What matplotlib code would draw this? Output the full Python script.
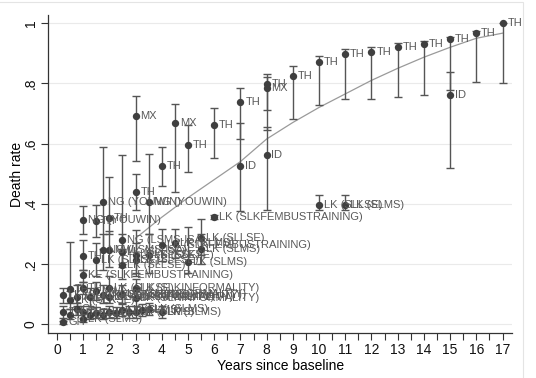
import matplotlib
matplotlib.use("Agg")
import matplotlib.pyplot as plt
import numpy as np
from matplotlib.patches import Rectangle

plt.rcParams['font.family'] = ['Liberation Sans', 'DejaVu Sans']

# point estimates with confidence intervals
years = [17, 16, 15, 15, 14, 13, 12, 11, 10, 9,
         8, 8, 8, 7, 7, 6, 5, 4.5, 4, 3, 3,
         11, 10, 6,
         1.75, 3.5, 1, 1.5, 2,
         2.5, 1.75, 2, 1, 1.5, 2.5, 2.5, 3, 3, 3.5, 4, 4.5, 5, 5.5, 5.5,
         1, 1, 1.5, 2, 3, 0.5, 0.25, 0.5, 0.75, 1.25, 1.75, 2, 2.5, 3,
         0.25, 0.25, 0.5, 0.75, 1, 1, 1.25, 1.5, 1.75, 2, 2.25, 2.5, 2.75, 3, 3.25, 3.5, 4]
rates = [1.000, 0.967, 0.947, 0.761, 0.932, 0.920, 0.905, 0.899, 0.870, 0.826,
         0.797, 0.784, 0.561, 0.738, 0.525, 0.661, 0.595, 0.669, 0.526, 0.693, 0.440,
         0.395, 0.395, 0.355,
         0.405, 0.405, 0.345, 0.342, 0.352,
         0.279, 0.246, 0.246, 0.226, 0.213, 0.240, 0.196, 0.230, 0.213, 0.229, 0.262, 0.270, 0.206, 0.286, 0.250,
         0.163, 0.120, 0.110, 0.120, 0.120, 0.116, 0.096, 0.080, 0.090, 0.090, 0.095, 0.090, 0.100, 0.085,
         0.040, 0.005, 0.030, 0.050, 0.015, 0.040, 0.030, 0.035, 0.030, 0.040, 0.035, 0.045, 0.040, 0.040, 0.045, 0.050, 0.040]
ci_low = [0.800, 0.804, 0.777, 0.520, 0.763, 0.755, 0.749, 0.747, 0.727, 0.681,
          0.645, 0.711, 0.379, 0.614, 0.377, 0.551, 0.505, 0.440, 0.460, 0.541, 0.380,
          0.380, 0.380, 0.348,
          0.250, 0.300, 0.300, 0.290, 0.300,
          0.200, 0.180, 0.190, 0.180, 0.160, 0.190, 0.150, 0.170, 0.160, 0.170, 0.210, 0.220, 0.170, 0.230, 0.200,
          0.140, 0.100, 0.080, 0.090, 0.090, 0.070, 0.070, 0.050, 0.060, 0.060, 0.070, 0.070, 0.070, 0.060,
          0.020, 0.000, 0.015, 0.030, 0.005, 0.020, 0.015, 0.020, 0.015, 0.020, 0.020, 0.025, 0.020, 0.020, 0.025, 0.030, 0.020]
ci_high = [1.000, 0.975, 0.955, 0.837, 0.942, 0.933, 0.921, 0.915, 0.890, 0.858,
           0.830, 0.820, 0.656, 0.784, 0.667, 0.717, 0.660, 0.733, 0.588, 0.758, 0.500,
           0.430, 0.430, 0.362,
           0.590, 0.565, 0.392, 0.395, 0.488,
           0.561, 0.300, 0.310, 0.278, 0.270, 0.300, 0.250, 0.312, 0.270, 0.300, 0.315, 0.316, 0.323, 0.348, 0.300,
           0.180, 0.140, 0.140, 0.160, 0.150, 0.273, 0.120, 0.110, 0.130, 0.120, 0.130, 0.120, 0.130, 0.110,
           0.060, 0.010, 0.050, 0.070, 0.040, 0.060, 0.050, 0.055, 0.050, 0.060, 0.055, 0.065, 0.060, 0.060, 0.065, 0.070, 0.060]
labels = ['TH', 'TH', 'TH', 'ID', 'TH', 'TH', 'TH', 'TH', 'TH', 'TH',
          'TH', 'MX', 'ID', 'TH', 'ID', 'TH', 'TH', 'MX', 'TH', 'MX', 'TH',
          'LK (SLMS)', 'LK (SLLSE)', 'LK (SLKFEMBUSTRAINING)',
          'NG (YOUWIN)', 'NG (YOUWIN)', 'NG (YOUWIN)', 'TH', 'TH',
          'NG (LSMS-ISA)', 'NG (LSMS-ISA)', 'MW', 'TH', 'LK (SLLSE)', 'LK (SLLSE)', 'LK (SLLSE)',
          'LK (SLKSE)', 'LK (SLLSE)', 'LK (SLKSE)', 'LK (SLKFEMBUSTRAINING)', 'LK (SLMS)', 'LK (SLMS)',
          'LK (SLLSE)', 'LK (SLMS)',
          'KE (SLKFEMBUSTRAINING)', 'TH', 'MW', 'LK (SLKSE)', 'LK (SLKINFORMALITY)', 'TH',
          'LK (SLKINFORMALITY)', 'LK (SLKSE)', 'TH', 'LK (SLKINFORMALITY)', 'LK (SLKSEINFORMALITY)',
          'LK (SLKINFORMALITY)', 'LK (SLKINFORMALITY)', 'LK (SLKINFORMALITY)',
          'TH', 'GH', 'TH', 'GH', 'LK (SLMS)', 'TH', 'GH', 'TH', 'GH', 'TH', 'GH',
          'LK (SLMS)', 'TH', 'LK (SLMS)', 'GH', 'LK (SLMS)', 'LK (SLMS)']

# fitted curve
fit_years = [3, 4, 5, 6, 7, 8, 9, 10, 11, 12, 13, 14, 15, 16, 17]
fit_rates = [0.285, 0.355, 0.42, 0.48, 0.54, 0.615, 0.67, 0.72, 0.765, 0.81,
             0.85, 0.887, 0.92, 0.95, 0.967]

x = np.array(years)
y = np.array(rates)
lo = np.array(ci_low)
hi = np.array(ci_high)

fig = plt.figure(figsize=(5.36, 3.78), dpi=100)
ax = fig.add_axes([0.0896, 0.119, 0.866, 0.841])

for v in [0, 0.2, 0.4, 0.6, 0.8, 1.0]:
    ax.axhline(v, color='#eaeaea', lw=0.8, zorder=0)

ax.errorbar(x, y, yerr=[y - lo, hi - y], fmt='none', ecolor='#555555',
            elinewidth=1.0, capsize=3, capthick=1.0, zorder=2)
ax.scatter(x, y, s=28, color='#3f3f3f', zorder=3, linewidths=0)
ax.plot(fit_years, fit_rates, color='#9a9a9a', lw=0.9, zorder=1)

for xi, yi, lab in zip(x, y, labels):
    ax.annotate(lab, (xi, yi), xytext=(3.5, 0), textcoords='offset points',
                va='center', ha='left', fontsize=8, color='#595959', zorder=4)

ax.set_xlim(-0.34, 17.37)
ax.set_ylim(-0.03, 1.027)
ax.set_xticks(np.arange(0, 17.5, 0.5))
ax.set_xticklabels([str(int(t)) if t == int(t) else '' for t in np.arange(0, 17.5, 0.5)])
ax.set_yticks([0, 0.2, 0.4, 0.6, 0.8, 1.0])
ax.set_yticklabels(['0', '.2', '.4', '.6', '.8', '1'], rotation=90, va='center')
ax.tick_params(axis='both', labelsize=10, length=5, width=0.8, color='#333333',
               labelcolor='#111111', pad=2.5)
for s in ['top', 'right']:
    ax.spines[s].set_visible(False)
for s in ['left', 'bottom']:
    ax.spines[s].set_color('#333333')
    ax.spines[s].set_linewidth(0.9)

ax.set_xlabel('Years since baseline', fontsize=10, labelpad=1)
ax.set_ylabel('Death rate', fontsize=10)
ax.yaxis.set_label_coords(-0.052, 0.5)

fig.patches.append(Rectangle((-0.01, -0.01), 523 / 536 + 0.01, 1 - 2 / 378 + 0.01,
                             transform=fig.transFigure, fill=False,
                             edgecolor='#e4e4e4', lw=0.8))

fig.savefig('out.png', dpi=100)
